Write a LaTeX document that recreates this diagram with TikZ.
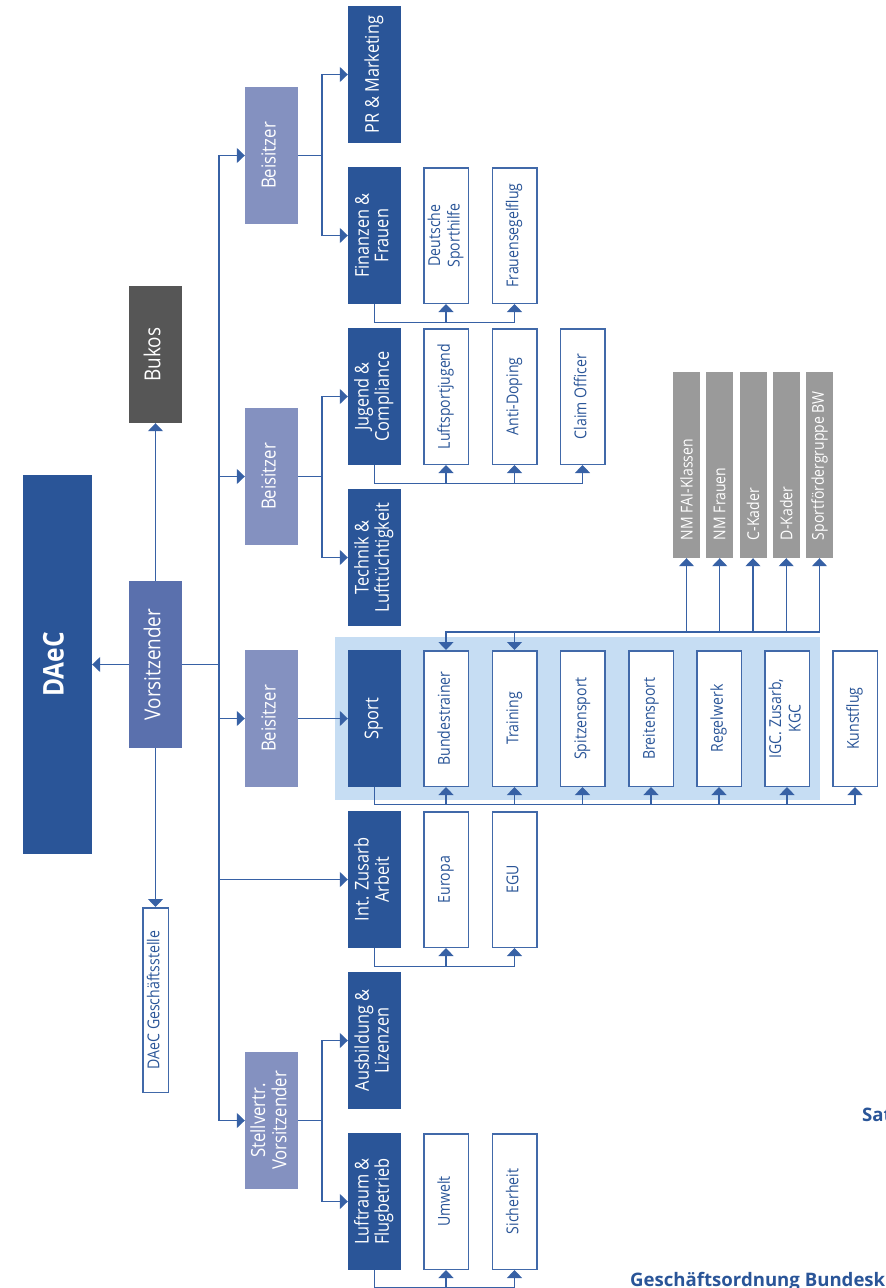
\documentclass[tikz,border=0pt]{standalone}
\usepackage{fontspec}
\setmainfont{Open Sans}[FakeStretch=0.86]
\newfontfamily\footfont{Open Sans}
\usepackage{graphicx}
\usetikzlibrary{arrows.meta}
\definecolor{dblue}{HTML}{2A5598}
\definecolor{lblue}{HTML}{3761A5}
\definecolor{lav}{HTML}{8491C0}
\definecolor{vorsc}{HTML}{5A70AD}
\definecolor{bukosc}{HTML}{565656}
\definecolor{grayk}{HTML}{9A9A9A}
\definecolor{bandc}{HTML}{C6DDF3}
\definecolor{sborder}{HTML}{4169A9}
\newcommand{\vt}[1]{\rotatebox{90}{\begin{tabular}{@{}c@{}}#1\end{tabular}}}
\newcommand{\vtl}[1]{\rotatebox{90}{\makebox[150pt][l]{#1}}}
\tikzset{
  boxbase/.style={rectangle, inner sep=0pt, minimum width=53pt, minimum height=137pt},
  dbox/.style={boxbase, fill=dblue, text=white, font=\fontsize{19}{19.5}\selectfont},
  bbox/.style={boxbase, fill=lav, text=white, font=\fontsize{19.5}{21}\selectfont},
  sbox/.style={rectangle, inner sep=0pt, minimum width=44.5pt, minimum height=135.5pt,
    draw=sborder, line width=1.5pt, fill=white, text=dblue, font=\fontsize{16.4}{19.5}\selectfont},
  gbox/.style={rectangle, inner sep=0pt, minimum width=27pt, minimum height=186pt,
    fill=grayk, text=white, font=\fontsize{16.3}{19}\selectfont},
  conn/.style={draw=lblue, line width=1.3pt},
  conna/.style={conn, -{Triangle[length=8pt,width=15pt]}},
  foottext/.style={anchor=base west, text=dblue, inner sep=0pt, font=\footfont\bfseries\fontsize{18.6}{20}\selectfont}
}
\begin{document}
\begin{tikzpicture}[x=1pt,y=-1pt]
\path[use as bounding box] (0,0) rectangle (886,1288);
\clip (0,0) rectangle (886,1288);
% light band behind the Sport group
\fill[bandc] (335,637) rectangle (820,800);

% top level
\node[rectangle, inner sep=0pt, minimum width=69pt, minimum height=379pt, fill=dblue, text=white,
  font=\bfseries\fontsize{28.5}{30}\selectfont] (daec) at (57.5,664.5) {\vt{DAeC}};
\node[rectangle, inner sep=0pt, minimum width=53pt, minimum height=167pt, fill=vorsc, text=white,
  font=\fontsize{22}{24}\selectfont] (vors) at (155.5,664.5) {\vt{Vorsitzender}};
\node[boxbase, fill=bukosc, text=white, font=\fontsize{22}{24}\selectfont] (bukos) at (155.5,354.5) {\vt{Bukos}};
\node[sbox, minimum width=25.5pt, minimum height=184.5pt] (gs) at (155.5,1000) {\vt{DAeC Geschäftsstelle}};

% Beisitzer column
\node[bbox] (beis1) at (271.5,155.5) {\vt{Beisitzer}};
\node[bbox] (beis2) at (271.5,476.5) {\vt{Beisitzer}};
\node[bbox] (beis3) at (271.5,718.5) {\vt{Beisitzer}};
\node[bbox] (stellv) at (271.5,1120.5) {\vt{Stellvertr.\\Vorsitzender}};

% dark blue column
\node[dbox] (pr) at (374.5,74.5) {\vt{PR \& Marketing}};
\node[dbox] (fin) at (374.5,235.5) {\vt{Finanzen \&\\Frauen}};
\node[dbox] (jug) at (374.5,396.5) {\vt{Jugend \&\\Compliance}};
\node[dbox] (tech) at (374.5,557.5) {\vt{Technik \&\\Lufttüchtigkeit}};
\node[dbox] (sport) at (374.5,718.5) {\vt{Sport}};
\node[dbox] (int) at (374.5,879.5) {\vt{Int. Zusarb\\Arbeit}};
\node[dbox] (ausb) at (374.5,1040.5) {\vt{Ausbildung \&\\Lizenzen}};
\node[dbox] (luft) at (374.5,1201.5) {\vt{Luftraum \&\\Flugbetrieb}};

% sub boxes
\node[sbox] (dsh) at (446,235.5) {\vt{Deutsche\\Sporthilfe}};
\node[sbox] (fsf) at (514.5,235.5) {\vt{Frauensegelflug}};
\node[sbox] (lsj) at (446,396.5) {\vt{Luftsportjugend}};
\node[sbox] (adp) at (514.5,396.5) {\vt{Anti-Doping}};
\node[sbox] (clo) at (582.5,396.5) {\vt{Claim Officer}};
\node[sbox] (bt) at (446,718.5) {\vt{Bundestrainer}};
\node[sbox] (tr) at (514.5,718.5) {\vt{Training}};
\node[sbox] (sp) at (582.5,718.5) {\vt{Spitzensport}};
\node[sbox] (brs) at (651,718.5) {\vt{Breitensport}};
\node[sbox] (rw) at (719,718.5) {\vt{Regelwerk}};
\node[sbox] (igc) at (787,718.5) {\vt{IGC. Zusarb,\\KGC}};
\node[sbox] (kf) at (855,718.5) {\vt{Kunstflug}};
\node[sbox] (eu) at (446,879.5) {\vt{Europa}};
\node[sbox] (egu) at (514.5,879.5) {\vt{EGU}};
\node[sbox] (umw) at (446,1201.5) {\vt{Umwelt}};
\node[sbox] (sich) at (514.5,1201.5) {\vt{Sicherheit}};

% gray boxes
\node[gbox] (g1) at (686.5,465) {\vtl{NM FAI-Klassen}};
\node[gbox] (g2) at (719.75,465) {\vtl{NM Frauen}};
\node[gbox] (g3) at (753,465) {\vtl{C-Kader}};
\node[gbox] (g4) at (786.25,465) {\vtl{D-Kader}};
\node[gbox] (g5) at (819.5,465) {\vtl{Sportfördergruppe BW}};

% helper coordinates
\coordinate (tk) at (219,0);
\coordinate (bx) at (322,0);
\coordinate (tbus) at (0,632);

% top-level connectors
\draw[conna] (vors.west) -- (daec.east);
\draw[conna] (vors.north) -- (bukos.south);
\draw[conna] (vors.south) -- (gs.north);
\draw[conn] (vors.east) -- (vors.east -| tk);
\draw[conna] (vors.east -| tk) |- (beis1.west);
\draw[conna] (vors.east -| tk) |- (stellv.west);
\draw[conna] (beis2.west -| tk) -- (beis2.west);
\draw[conna] (beis3.west -| tk) -- (beis3.west);
\draw[conna] (int.west -| tk) -- (int.west);

% Beisitzer branches
\draw[conn] (beis1.east) -- (beis1.east -| bx);
\draw[conna] (beis1.east -| bx) |- (pr.west);
\draw[conna] (beis1.east -| bx) |- (fin.west);
\draw[conn] (beis2.east) -- (beis2.east -| bx);
\draw[conna] (beis2.east -| bx) |- (jug.west);
\draw[conna] (beis2.east -| bx) |- (tech.west);
\draw[conna] (beis3.east) -- (sport.west);
\draw[conn] (stellv.east) -- (stellv.east -| bx);
\draw[conna] (stellv.east -| bx) |- (ausb.west);
\draw[conna] (stellv.east -| bx) |- (luft.west);

% sub buses
\draw[conna] (fin.south) -- ++(0,18) -| (fsf.south);
\draw[conna] (dsh.south) ++(0,18) -- (dsh.south);
\draw[conna] (jug.south) -- ++(0,18) -| (clo.south);
\foreach \n in {lsj,adp} \draw[conna] (\n.south) ++(0,18) -- (\n.south);
\draw[conna] (sport.south) -- ++(0,17.5) -| (kf.south);
\foreach \n in {bt,tr,sp,brs,rw,igc} \draw[conna] (\n.south) ++(0,17.5) -- (\n.south);
\draw[conna] (int.south) -- ++(0,18.5) -| (egu.south);
\draw[conna] (eu.south) ++(0,18.5) -- (eu.south);
\draw[conna] (luft.south) -- ++(0,17) -| (sich.south);
\draw[conna] (umw.south) ++(0,17) -- (umw.south);

% top bus of the Sport group
\draw[conna] (g5.south |- tbus) -| (bt.north);
\draw[conna] (tr.north |- tbus) -- (tr.north);
\foreach \n in {g1,g2,g3,g4,g5} \draw[conna] (\n.south |- tbus) -- (\n.south);

% footer texts (cut at the edge, as in the reference)
\node[foottext] (sat) at (862,1121.5) {Sat};
\node[foottext] (gob) at (630,1286) {Geschäftsordnung Bundesk};
\end{tikzpicture}
\end{document}
